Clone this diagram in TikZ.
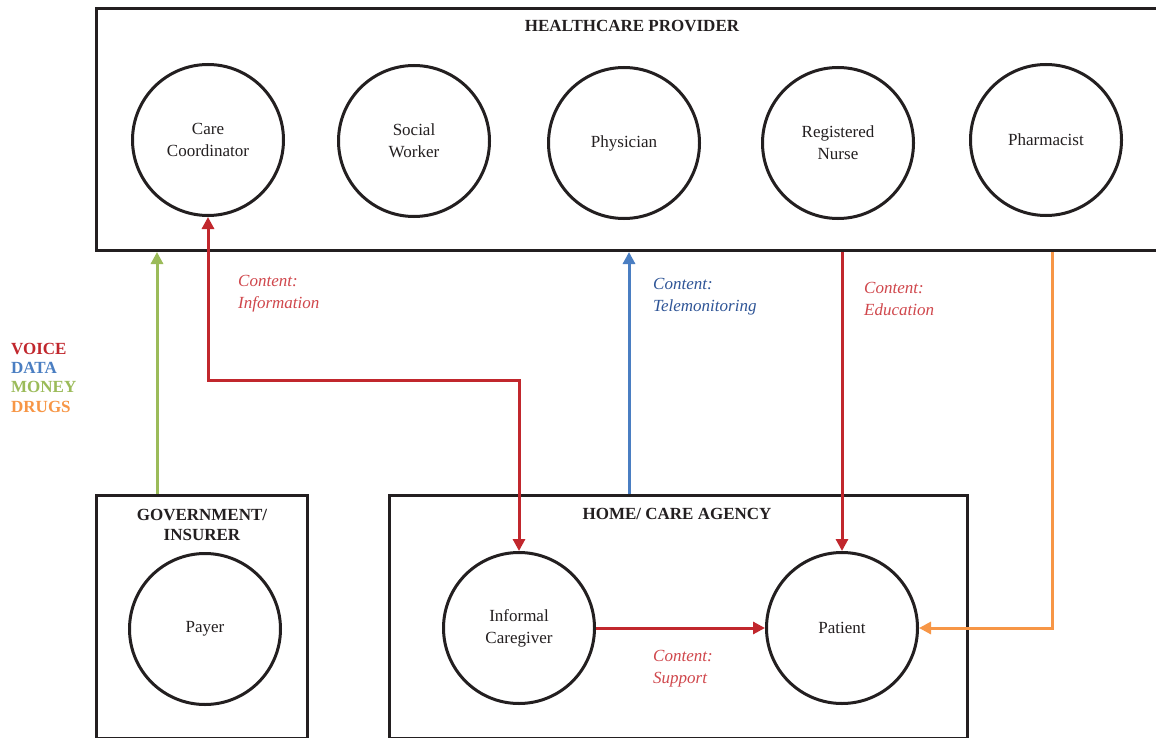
\documentclass[tikz,border=0pt]{standalone}
\usepackage{fontspec}
\setmainfont{Liberation Serif}
\usetikzlibrary{arrows.meta}
\definecolor{voicered}{HTML}{C1272D}
\definecolor{labelred}{HTML}{D0474C}
\definecolor{datablue}{HTML}{4A7EC2}
\definecolor{labelblue}{HTML}{2F5597}
\definecolor{moneygreen}{HTML}{9BBB59}
\definecolor{drugorange}{HTML}{F79646}
\definecolor{ink}{HTML}{231F20}
\begin{document}
\begin{tikzpicture}[x=1pt,y=-1pt,
 every node/.style={font=\fontsize{17}{22}\selectfont, text=ink},
 role/.style={circle, draw=ink, line width=3pt, minimum size=151pt, inner sep=0pt, align=center},
 org/.style={draw=ink, line width=3pt, anchor=north west, inner sep=0pt},
 heading/.style={font=\fontsize{17}{19.5}\selectfont\bfseries, align=center},
 flow/.style={line width=3pt, -{Triangle[length=12pt,width=12pt]}},
 flowboth/.style={line width=3pt, {Triangle[length=12pt,width=12pt]}-{Triangle[length=12pt,width=12pt]}},
 content/.style={font=\fontsize{17}{22}\selectfont\itshape, align=left, anchor=north west, inner sep=0pt},
 legend/.style={font=\fontsize{17}{19.3}\selectfont\bfseries, anchor=base west, inner sep=0pt}]
\useasboundingbox (0,0) rectangle (1156,738);
\fill[white] (0,0) rectangle (1156,738);

% organisations
\node[org, minimum width=1070pt, minimum height=242pt] (hp) at (95,7) {};
\node[heading] (hpt) at (632,26) {HEALTHCARE PROVIDER};
\node[org, minimum width=211pt, minimum height=243pt] (gov) at (95,494) {};
\node[heading] (govt) at (202,525) {GOVERNMENT/\\INSURER};
\node[org, minimum width=578pt, minimum height=243pt] (home) at (388,494) {};
\node[heading] (homet) at (677,514) {HOME/ CARE AGENCY};

% roles
\node[role] (cc) at (208,140) {Care\\Coordinator};
\node[role] (sw) at (414,141) {Social\\Worker};
\node[role] (ph) at (624,143) {Physician};
\node[role] (rn) at (838,143) {Registered\\Nurse};
\node[role] (pm) at (1046,140) {Pharmacist};
\node[role] (pay) at (205,629) {Payer};
\node[role] (cg) at (519,628) {Informal\\Caregiver};
\node[role] (pt) at (842,628) {Patient};

% flows
\coordinate (bend) at (519,380);
\draw[flow, moneygreen] (gov.north -| 157,0) -- (hp.south -| 157,0);
\draw[flowboth, voicered] (cc.south) |- (bend) -- (cg.north);
\draw[flow, datablue] (home.north -| 629,0) -- (hp.south -| 629,0);
\draw[flow, voicered] (hp.south -| pt.north) -- (pt.north);
\draw[flow, drugorange] (hp.south -| 1052,0) |- (pt.east);
\draw[flow, voicered] (cg.east) -- (pt.west);

% content labels
\node[content, text=labelred] (l1) at (238,275) {Content:\\Information};
\node[content, text=labelblue] (l2) at (653,278) {Content:\\Telemonitoring};
\node[content, text=labelred] (l3) at (864,282) {Content:\\Education};
\node[content, text=labelred] (l4) at (653,650) {Content:\\Support};

% legend
\node[legend, text=voicered] (lv) at (11,354) {VOICE};
\node[legend, text=datablue] (ld) at (11,373) {DATA};
\node[legend, text=moneygreen] (lm) at (11,392) {MONEY};
\node[legend, text=drugorange] (lr) at (11,412) {DRUGS};
\end{tikzpicture}
\end{document}
